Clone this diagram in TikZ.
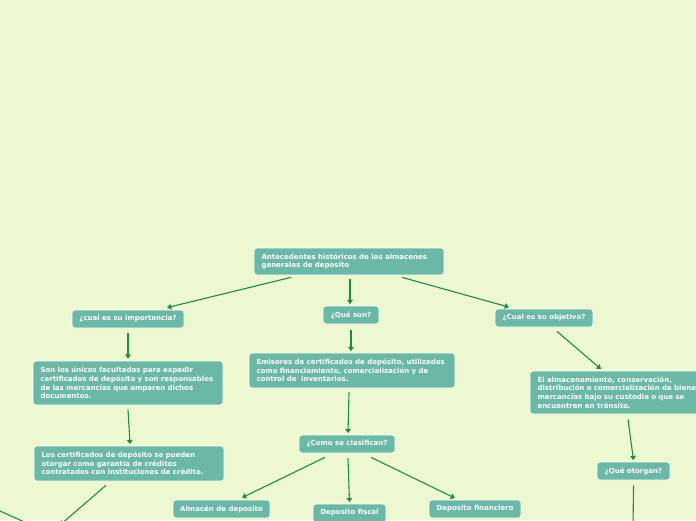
\documentclass[tikz,border=0pt]{standalone}
\usepackage{fontspec}
\setmainfont{DejaVu Sans}
\usetikzlibrary{arrows.meta}
\definecolor{bgc}{HTML}{EEF8D0}
\definecolor{boxc}{HTML}{6BB8A6}
\definecolor{arrc}{HTML}{1E8B45}
\tikzset{
  box/.style={draw=white, line width=0.7pt, fill=boxc, rounded corners=3pt,
    text=white, font=\fontsize{7}{8.7}\selectfont\bfseries,
    inner xsep=7.5pt, inner ysep=1pt, anchor=center},
  qbox/.style={box, inner xsep=0pt, minimum height=18pt, align=center},
  conn/.style={draw=arrc, line width=1.1pt,
    -{Triangle[length=4.2pt,width=5.6pt]}}
}
\begin{document}
\begin{tikzpicture}[x=1pt,y=-1pt]
\fill[bgc] (0,0) rectangle (696,520);
\useasboundingbox (0,0) rectangle (696,520);
\clip (0,0) rectangle (696,520);

\node[box, text width=175pt, minimum height=27pt, align=left] (root) at (349,261.5)
  {Antecedentes históricos de los almacenes\\generales de deposito};
\node[qbox, minimum width=112pt] (imp) at (128,319)
  {¿cual es su importancia?};
\node[qbox, minimum width=56pt] (queson) at (351,315)
  {¿Qué son?};
\node[qbox, minimum width=98pt] (obj) at (544,318)
  {¿Cual es su objetivo?};
\node[box, text width=175pt, minimum height=44pt, align=left] (son) at (128,383)
  {Son los únicos facultados para expedir\\certificados de depósito y son responsables\\de las mercancías que amparen dichos\\documentos.};
\node[box, text width=191pt, minimum height=35pt, align=left] (emis) at (352,370.5)
  {Emisores de certificados de depósito, utilizados\\como financiamiento, comercialización y de\\control de~ inventarios.};
\node[box, text width=175pt, minimum height=43pt, align=left] (alm) at (625,392.5)
  {El almacenamiento, conservación,\\distribución o comercialización de bienes\\mercancías bajo su custodia o que se\\encuentren en tránsito.};
\node[box, text width=175pt, minimum height=35pt, align=left] (cert) at (129,463.5)
  {Los certificados de depósito se pueden\\otorgar como garantía de créditos\\contratados con instituciones de crédito.};
\node[qbox, minimum width=96pt] (como) at (347,444)
  {¿Como se clasifican?};
\node[qbox, minimum width=97pt] (almdep) at (221.5,509)
  {Almacén de deposito};
\node[qbox, minimum width=73pt] (fiscal) at (349.5,513)
  {Deposito fiscal};
\node[qbox, minimum width=92pt] (fin) at (475,509)
  {Deposito financiero};
\node[qbox, minimum width=73pt] (otorgan) at (633.5,471)
  {¿Qué otorgan?};

\coordinate (certout) at (60,525);
\coordinate (otorgout) at (633,530);
\coordinate (leftin) at (-20,502);
\coordinate (leftout) at (40,529);

\draw[conn] ([xshift=-58pt,yshift=-2pt]root.south) -- ([xshift=39pt,yshift=2pt]imp.north);
\draw[conn] ([xshift=1pt,yshift=-4pt]root.south) -- ([xshift=-1pt,yshift=1.5pt]queson.north);
\draw[conn] ([xshift=53pt,yshift=-2pt]root.south) -- ([xshift=-35pt,yshift=1.5pt]obj.north);
\draw[conn] ([yshift=-5pt]imp.south) -- ([yshift=2pt]son.north);
\draw[conn] ([yshift=-4pt]son.south) -- ([xshift=1pt,yshift=1.5pt]cert.north);
\draw[conn] ([xshift=-23pt,yshift=-4pt]cert.south) -- (certout);
\draw[conn] ([yshift=-6pt]queson.south) -- ([xshift=-1pt,yshift=1.5pt]emis.north);
\draw[conn] ([xshift=-3pt,yshift=-4pt]emis.south) -- ([xshift=1pt,yshift=1.5pt]como.north);
\draw[conn] ([xshift=-22pt,yshift=-4pt]como.south) -- ([xshift=20.5pt,yshift=2pt]almdep.north);
\draw[conn] ([xshift=1pt,yshift=-5pt]como.south) -- ([yshift=1.5pt]fiscal.north);
\draw[conn] ([xshift=24pt,yshift=-4pt]como.south) -- ([xshift=-20pt,yshift=1.5pt]fin.north);
\draw[conn] ([xshift=13pt,yshift=-4pt]obj.south) -- ([xshift=-24pt,yshift=1.5pt]alm.north);
\draw[conn] ([xshift=3pt,yshift=-5pt]alm.south) -- ([yshift=1.5pt]otorgan.north);
\draw[conn] ([yshift=-5pt]otorgan.south) -- (otorgout);
\draw[conn] (leftin) -- (leftout);
\end{tikzpicture}
\end{document}
